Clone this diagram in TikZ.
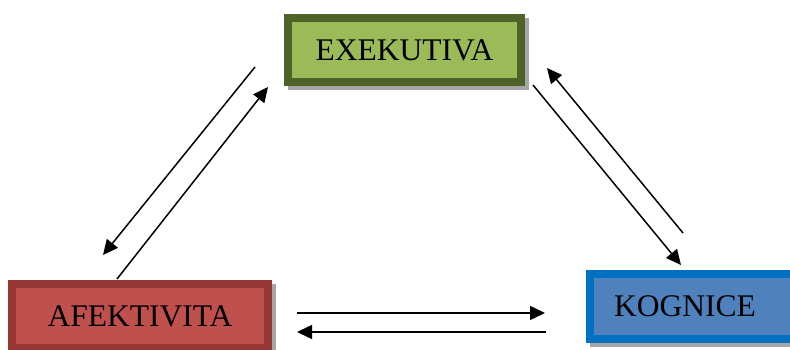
\documentclass[tikz,border=0pt]{standalone}
\usepackage{fontspec}
\setmainfont{Liberation Serif}
\usetikzlibrary{arrows.meta,backgrounds,calc}
\definecolor{exefill}{HTML}{9BBB59}
\definecolor{exeline}{HTML}{4F6228}
\definecolor{afefill}{HTML}{C0504D}
\definecolor{afeline}{HTML}{953735}
\definecolor{kogfill}{HTML}{4F81BD}
\definecolor{kogline}{HTML}{0070C0}
\definecolor{shadowc}{HTML}{A6A6A6}
\tikzset{
  box/.style={rectangle, line width=8pt, outer sep=4pt, inner sep=0pt,
    minimum height=64pt, font=\fontsize{31.5}{36}\selectfont, text=black},
  conn/.style={line width=1.5pt, -{Triangle[length=15pt,width=14pt]}},
  shade/.style={fill=shadowc}
}
\begin{document}
\begin{tikzpicture}[x=1pt,y=1pt]
\useasboundingbox (0,0) rectangle (790,350);
\node[box, fill=exefill, draw=exeline, minimum width=233pt] (exe) at (404.5,300) {EXEKUTIVA};
\node[box, fill=afefill, draw=afeline, minimum width=256pt] (afe) at (140,34) {AFEKTIVITA};
\node[box, fill=kogfill, draw=kogline, minimum width=215pt, minimum height=65pt] (kog) at (697.5,43.5) {\hspace*{-25pt}KOGNICE};
\begin{scope}[on background layer]
  \fill[shade] ($(exe.south west)+(4,-4)$) rectangle ($(exe.north east)+(4,-4)$);
  \fill[shade] ($(afe.south west)+(4,-4)$) rectangle ($(afe.north east)+(4,-4)$);
  \fill[shade] ($(kog.south west)+(4,-4)$) rectangle ($(kog.north east)+(4,-4)$);
\end{scope}
% connector end points
\coordinate (a1s) at (255,283); \coordinate (a1e) at (103,95);
\coordinate (a2s) at (117,71);  \coordinate (a2e) at (268,263);
\coordinate (a3s) at (683,117); \coordinate (a3e) at (547,282);
\coordinate (a4s) at (533,265); \coordinate (a4e) at (681,85);
\coordinate (a5s) at (297,37);  \coordinate (a5e) at (545,37);
\coordinate (a6s) at (546,18);  \coordinate (a6e) at (297,18);
\draw[conn] (a1s) -- (a1e);
\draw[conn] (a2s) -- (a2e);
\draw[conn] (a3s) -- (a3e);
\draw[conn] (a4s) -- (a4e);
\draw[conn] (a5s) -- (a5e);
\draw[conn] (a6s) -- (a6e);
\end{tikzpicture}
\end{document}
